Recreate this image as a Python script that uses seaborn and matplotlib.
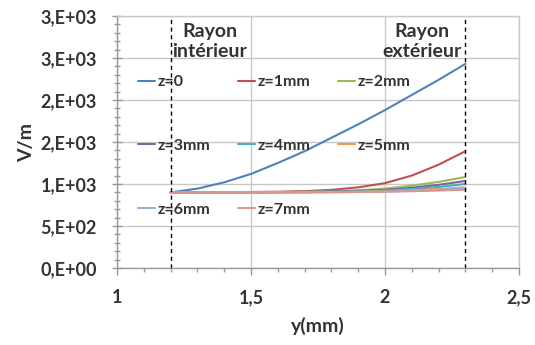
import math
import matplotlib
matplotlib.use('Agg')
import matplotlib.pyplot as plt
import pandas as pd
import seaborn as sns
from matplotlib.ticker import FuncFormatter, MultipleLocator

# Data
y_mm = [1.2, 1.3, 1.4, 1.5, 1.6, 1.7, 1.8, 1.9, 2.0, 2.1, 2.2, 2.3]
z0 = [900, 945, 1020, 1120, 1250, 1390, 1550, 1710, 1880, 2060, 2240, 2430]
z1 = [900, 900, 902, 905, 908, 915, 930, 960, 1010, 1100, 1230, 1390]
z2 = [900, 900, 900, 902, 904, 908, 915, 925, 945, 980, 1025, 1083]
z3 = [900, 900, 900, 901, 903, 906, 911, 918, 930, 955, 990, 1036]
z4 = [900, 900, 900, 900, 902, 904, 907, 912, 920, 940, 965, 1000]
z5 = [900, 900, 900, 900, 901, 902, 904, 908, 914, 925, 940, 960]
z6 = [900, 900, 900, 900, 900, 901, 903, 906, 911, 920, 932, 948]
z7 = [900, 900, 900, 900, 900, 900, 902, 904, 908, 914, 922, 932]

labels = ['z=0', 'z=1mm', 'z=2mm', 'z=3mm', 'z=4mm', 'z=5mm', 'z=6mm', 'z=7mm']
series = [z0, z1, z2, z3, z4, z5, z6, z7]
colors = ['#4F81BD', '#C0504D', '#9BBB59', '#8064A2', '#4BACC6', '#F79646',
          '#95B3D7', '#D99694']
rayons = [1.2, 2.3]

rows = []
for lab, vals in zip(labels, series):
    for x, v in zip(y_mm, vals):
        rows.append({'y': x, 'V': v, 'z': lab})
df = pd.DataFrame(rows)

sns.set_style('white')
plt.rcParams['font.family'] = ['Lato', 'DejaVu Sans']
txt = '#333333'

fig = plt.figure(figsize=(5.35, 3.45), dpi=100)
ax = fig.add_axes([0.2187, 0.2232, 0.7513, 0.7304])

sns.lineplot(data=df, x='y', y='V', hue='z', hue_order=labels, palette=colors,
             linewidth=1.5, ax=ax, legend=False)

for r in rayons:
    ax.axvline(r, color='black', linestyle=(0, (3, 2.5)), linewidth=1)

ax.set_xlim(1, 2.5)
ax.set_ylim(0, 3000)
ax.xaxis.set_major_locator(MultipleLocator(0.5))
ax.xaxis.set_minor_locator(MultipleLocator(0.1))
ax.yaxis.set_major_locator(MultipleLocator(500))
ax.yaxis.set_minor_locator(MultipleLocator(100))


def excel_sci(v, pos):
    if v == 0:
        return '0,E+00'
    e = int(math.floor(math.log10(abs(v))))
    m = int(math.floor(v / 10 ** e + 0.5))
    return f'{m},E+{e:02d}'


def excel_dec(v, pos):
    return f'{v:g}'.replace('.', ',')


ax.yaxis.set_major_formatter(FuncFormatter(excel_sci))
ax.xaxis.set_major_formatter(FuncFormatter(excel_dec))

ax.grid(True, which='major', color='#C8C8C8', linewidth=1)
for s in ax.spines.values():
    s.set_color('#C8C8C8')
    s.set_linewidth(1)
ax.spines['left'].set_color('#999999')
ax.spines['bottom'].set_color('#999999')

ax.tick_params(axis='y', which='major', direction='inout', length=7, width=1,
               color='#999999', pad=11, labelsize=13, labelcolor=txt, left=True)
ax.tick_params(axis='y', which='minor', direction='inout', length=4, width=1,
               color='#999999', left=True)
ax.tick_params(axis='x', which='major', direction='out', length=5, width=1,
               color='#999999', pad=10, labelsize=13, labelcolor=txt, bottom=True)
ax.tick_params(axis='x', which='minor', direction='out', length=3, width=1,
               color='#999999', bottom=True)
for t in ax.get_xticklabels() + ax.get_yticklabels():
    t.set_fontweight('bold')

ax.set_xlabel('y(mm)', fontsize=14, fontweight='bold', color=txt, labelpad=8)
ax.set_ylabel('V/m', fontsize=14, fontweight='bold', color=txt, labelpad=4)

ax.text(1.345, 2700, 'Rayon\nintérieur', ha='center', va='center', fontsize=14,
        fontweight='bold', color=txt, linespacing=1.2)
ax.text(2.139, 2700, 'Rayon\nextérieur', ha='center', va='center', fontsize=14,
        fontweight='bold', color=txt, linespacing=1.2)

# legend laid out row by row like Excel: one legend per column
handles = [plt.Line2D([], [], color=c, linewidth=1.5) for c in colors]
col_x = [138 / 535, 238 / 535, 338 / 535]
for c, x0 in enumerate(col_x):
    idx = list(range(c, len(labels), 3))
    leg = fig.legend([handles[i] for i in idx], [labels[i] for i in idx],
                     loc='upper left', bbox_to_anchor=(x0, 1 - 75 / 345),
                     frameon=False, handlelength=1.05, handletextpad=0.15,
                     borderpad=0, borderaxespad=0, labelspacing=3.1,
                     prop={'size': 11.5, 'weight': 'bold'})
    for t in leg.get_texts():
        t.set_color(txt)

fig.savefig('out.png', dpi=100)
